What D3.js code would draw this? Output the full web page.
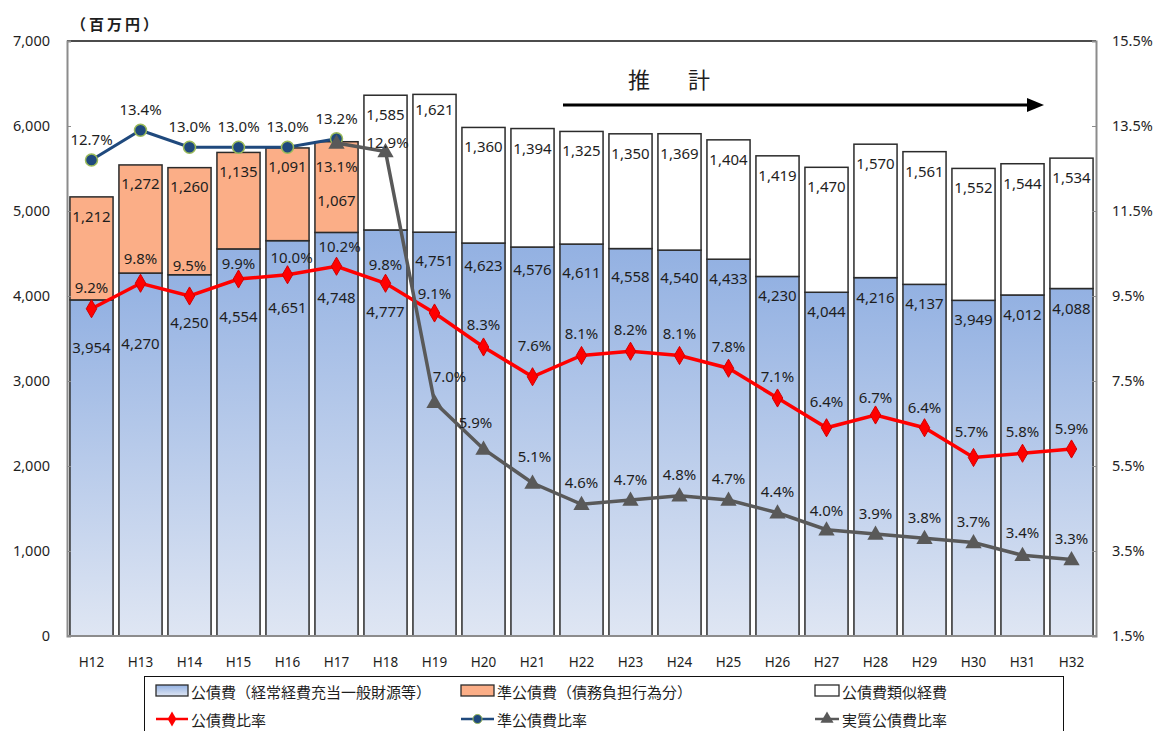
<!DOCTYPE html>
<html lang="ja">
<head>
<meta charset="utf-8">
<script src="https://cdn.jsdelivr.net/npm/d3@7"></script>
<style>
  html, body { margin: 0; padding: 0; background: #fff; }
  svg { display: block; }
  .val { font-family: "Noto Sans", "DejaVu Sans", sans-serif; font-size: 15px; fill: #1e1e1e; }
  .jp { font-family: "Noto Sans CJK JP", "Noto Sans", sans-serif; fill: #1e1e1e; }
</style>
</head>
<body>
<svg id="chart" width="1157" height="731"></svg>
<script>
// Fiscal years (Heisei)
const years = ["H12","H13","H14","H15","H16","H17","H18","H19","H20","H21","H22",
               "H23","H24","H25","H26","H27","H28","H29","H30","H31","H32"];

// 公債費（経常経費充当一般財源等）, millions of yen
const debtService = [3954,4270,4250,4554,4651,4748,4777,4751,4623,4576,4611,
                     4558,4540,4433,4230,4044,4216,4137,3949,4012,4088];
// 準公債費（債務負担行為分）
const quasiDebt = [1212,1272,1260,1135,1091,1067,null,null,null,null,null,
                   null,null,null,null,null,null,null,null,null,null];
// 公債費類似経費
const similarCost = [null,null,null,null,null,null,1585,1621,1360,1394,1325,
                     1350,1369,1404,1419,1470,1570,1561,1552,1544,1534];

// Ratios, %
const debtRatio = [9.2,9.8,9.5,9.9,10.0,10.2,9.8,9.1,8.3,7.6,8.1,
                   8.2,8.1,7.8,7.1,6.4,6.7,6.4,5.7,5.8,5.9];
const quasiRatio = [12.7,13.4,13.0,13.0,13.0,13.2,null,null,null,null,null,
                    null,null,null,null,null,null,null,null,null,null];
const realRatio = [null,null,null,null,null,13.1,12.9,7.0,5.9,5.1,4.6,
                   4.7,4.8,4.7,4.4,4.0,3.9,3.8,3.7,3.4,3.3];

// Axis ticks
const leftTicks = [0,1000,2000,3000,4000,5000,6000,7000];
const rightTicks = [1.5,3.5,5.5,7.5,9.5,11.5,13.5,15.5];

// Label nudges (pixels), kept apart from the values
const debtLabelDy  = [47,70,47,67,66,65,81,28,22,22,28,27,27,19,19,19,19,19,19,19,19];
const quasiLabelDy = [19,18,18,19,18,58];
const simLabelDy   = [19,19,19,19,19,19,19,15,19,19,19,19,19,19,19,19,19,19,19,19,19];
const debtRatioDy  = [-22,-25,-31,-16,-18,-20,-19,-20,-23,-32,-23,-22,-23,-22,-22,-27,-18,-21,-27,-22,-21];
const debtRatioDx  = [0,0,0,0,4,3,0,0,0,2,0,0,0,0,0,0,0,0,-2,0,0];
const realRatioDx  = [0,0,0,0,0,0,2,15,-8,2,0,0,0,0,0,0,0,0,0,0,0];
const realRatioDy  = [0,0,0,0,0,23,-10,-26,-27,-27,-22,-21,-22,-22,-22,-20,-21,-21,-22,-23,-22];

const svg = d3.select("#chart");
const plot = { left: 67, right: 1096, top: 41, bottom: 636 };

const x = d3.scaleBand().domain(years).range([plot.left, plot.right])
  .paddingInner(0.12).paddingOuter(0.06);
const y = d3.scaleLinear().domain([0, 7000]).range([plot.bottom, plot.top]);
const yR = d3.scaleLinear().domain([1.5, 15.5]).range([plot.bottom, plot.top]);
const cx = d => x(d) + x.bandwidth() / 2;
const fmt = d3.format(",");

// gradient for the main bars
const defs = svg.append("defs");
const grad = defs.append("linearGradient").attr("id", "blueGrad")
  .attr("x1", 0).attr("y1", 0).attr("x2", 0).attr("y2", 1);
grad.append("stop").attr("offset", "0%").attr("stop-color", "#93B1E2");
grad.append("stop").attr("offset", "100%").attr("stop-color", "#DFE6F3");

const orange = "#FBAE87";
const barStroke = "#2b2b2b";

// ---- bars ----
const bars = svg.append("g");
years.forEach((yr, i) => {
  const base = debtService[i];
  bars.append("rect")
    .attr("x", x(yr)).attr("width", x.bandwidth())
    .attr("y", y(base)).attr("height", y(0) - y(base))
    .attr("fill", "url(#blueGrad)").attr("stroke", barStroke).attr("stroke-width", 1.5);
  if (quasiDebt[i] != null) {
    const top = base + quasiDebt[i];
    bars.append("rect")
      .attr("x", x(yr)).attr("width", x.bandwidth())
      .attr("y", y(top)).attr("height", y(base) - y(top))
      .attr("fill", orange).attr("stroke", barStroke).attr("stroke-width", 1.5);
  }
  if (similarCost[i] != null) {
    const top = base + similarCost[i];
    bars.append("rect")
      .attr("x", x(yr)).attr("width", x.bandwidth())
      .attr("y", y(top)).attr("height", y(base) - y(top))
      .attr("fill", "#fff").attr("stroke", barStroke).attr("stroke-width", 1.5);
  }
});

// ---- axes frame ----
const axisGray = "#8c8c8c";
svg.append("line").attr("x1", plot.left).attr("x2", plot.right)
  .attr("y1", plot.top).attr("y2", plot.top).attr("stroke", "#111").attr("stroke-width", 1.5);
svg.append("line").attr("x1", plot.left).attr("x2", plot.right)
  .attr("y1", plot.bottom).attr("y2", plot.bottom).attr("stroke", axisGray).attr("stroke-width", 2);

const tickFont = g => g.selectAll(".tick text")
  .attr("font-family", "Noto Sans, sans-serif").attr("font-size", 14.5).attr("fill", "#1e1e1e");

const leftAxis = d3.axisLeft(y).tickValues(leftTicks).tickFormat(d3.format(",")).tickSize(-4).tickPadding(17);
const gl = svg.append("g").attr("transform", `translate(${plot.left},0)`).call(leftAxis);
gl.select(".domain").attr("stroke", axisGray).attr("stroke-width", 2);
gl.selectAll(".tick line").attr("stroke", axisGray);
tickFont(gl);

const rightAxis = d3.axisRight(yR).tickValues(rightTicks).tickFormat(d => d.toFixed(1) + "%").tickSize(-4).tickPadding(16);
const gr = svg.append("g").attr("transform", `translate(${plot.right},0)`).call(rightAxis);
gr.select(".domain").attr("stroke", axisGray).attr("stroke-width", 2);
gr.selectAll(".tick line").attr("stroke", axisGray);
tickFont(gr);

const bottomAxis = d3.axisBottom(x).tickSize(0).tickPadding(21);
const gb = svg.append("g").attr("transform", `translate(0,${plot.bottom})`).call(bottomAxis);
gb.select(".domain").remove();
gb.selectAll(".tick text").attr("font-family", "Noto Sans, sans-serif").attr("font-size", 13.5).attr("fill", "#1e1e1e");

// unit label
svg.append("text").attr("class", "jp").attr("x", 71).attr("y", 23)
  .attr("font-size", 15).attr("font-weight", "bold").attr("letter-spacing", 3)
  .attr("dominant-baseline", "central").text("（百万円）");

// ---- bar value labels ----
const labels = svg.append("g");
years.forEach((yr, i) => {
  const base = debtService[i];
  labels.append("text").attr("class", "val").attr("text-anchor", "middle")
    .attr("dominant-baseline", "central")
    .attr("x", cx(yr)).attr("y", y(base) + debtLabelDy[i]).text(fmt(base));
  if (quasiDebt[i] != null) {
    labels.append("text").attr("class", "val").attr("text-anchor", "middle")
      .attr("dominant-baseline", "central")
      .attr("x", cx(yr)).attr("y", y(base + quasiDebt[i]) + quasiLabelDy[i]).text(fmt(quasiDebt[i]));
  }
  if (similarCost[i] != null) {
    labels.append("text").attr("class", "val").attr("text-anchor", "middle")
      .attr("dominant-baseline", "central")
      .attr("x", cx(yr)).attr("y", y(base + similarCost[i]) + simLabelDy[i]).text(fmt(similarCost[i]));
  }
});

// ---- lines ----
const lineGen = d3.line().defined(d => d.v != null).x(d => cx(d.k)).y(d => yR(d.v));
const pts = arr => years.map((k, i) => ({ k, v: arr[i], i }));

// 準公債費比率
const navy = "#1F497D";
svg.append("path").datum(pts(quasiRatio)).attr("d", lineGen)
  .attr("fill", "none").attr("stroke", navy).attr("stroke-width", 3);
svg.append("g").selectAll("circle").data(pts(quasiRatio).filter(d => d.v != null)).join("circle")
  .attr("cx", d => cx(d.k)).attr("cy", d => yR(d.v)).attr("r", 6)
  .attr("fill", navy).attr("stroke", "#9BBB59").attr("stroke-width", 1.5);

// 公債費比率
const red = "#FF0000";
svg.append("path").datum(pts(debtRatio)).attr("d", lineGen)
  .attr("fill", "none").attr("stroke", red).attr("stroke-width", 3.5);
svg.append("g").selectAll("path").data(pts(debtRatio)).join("path")
  .attr("transform", d => `translate(${cx(d.k)},${yR(d.v)})`)
  .attr("d", d3.symbol(d3.symbolDiamond, 95))
  .attr("fill", red).attr("stroke", "#d00000").attr("stroke-width", 1);

// 実質公債費比率
const gray = "#595959";
svg.append("path").datum(pts(realRatio)).attr("d", lineGen)
  .attr("fill", "none").attr("stroke", gray).attr("stroke-width", 3.5);
svg.append("g").selectAll("path").data(pts(realRatio).filter(d => d.v != null)).join("path")
  .attr("transform", d => `translate(${cx(d.k)},${yR(d.v) + 1})`)
  .attr("d", d3.symbol(d3.symbolTriangle, 115))
  .attr("fill", gray);

// ---- ratio labels ----
const pct = v => v.toFixed(1) + "%";
const rl = svg.append("g");
pts(quasiRatio).filter(d => d.v != null).forEach(d => {
  rl.append("text").attr("class", "val").attr("text-anchor", "middle").attr("dominant-baseline", "central")
    .attr("x", cx(d.k)).attr("y", yR(d.v) - 21).text(pct(d.v));
});
pts(debtRatio).forEach(d => {
  rl.append("text").attr("class", "val").attr("text-anchor", "middle").attr("dominant-baseline", "central")
    .attr("x", cx(d.k) + debtRatioDx[d.i]).attr("y", yR(d.v) + debtRatioDy[d.i]).text(pct(d.v));
});
pts(realRatio).filter(d => d.v != null).forEach(d => {
  rl.append("text").attr("class", "val").attr("text-anchor", "middle").attr("dominant-baseline", "central")
    .attr("x", cx(d.k) + realRatioDx[d.i]).attr("y", yR(d.v) + realRatioDy[d.i]).text(pct(d.v));
});

// ---- projection marker ----
svg.append("text").attr("class", "jp").attr("x", 628).attr("y", 78)
  .attr("font-size", 22).attr("letter-spacing", 8).attr("dominant-baseline", "central")
  .text("推　計");
svg.append("line").attr("x1", 563).attr("x2", 1030).attr("y1", 105).attr("y2", 105)
  .attr("stroke", "#000").attr("stroke-width", 3);
svg.append("path").attr("d", "M1027,98 L1044,105 L1027,112 Z").attr("fill", "#000");

// ---- legend ----
const lg = svg.append("g");
lg.append("rect").attr("x", 144.5).attr("y", 676.5).attr("width", 919).attr("height", 70)
  .attr("fill", "#fff").attr("stroke", "#111").attr("stroke-width", 1);

const legendItems = [
  { col: 0, row: 0, type: "box", fill: "url(#blueGrad)", label: "公債費（経常経費充当一般財源等）" },
  { col: 1, row: 0, type: "box", fill: orange, label: "準公債費（債務負担行為分）" },
  { col: 2, row: 0, type: "box", fill: "#fff", label: "公債費類似経費" },
  { col: 0, row: 1, type: "line", color: red, marker: d3.symbolDiamond, size: 65, label: "公債費比率" },
  { col: 1, row: 1, type: "line", color: navy, marker: d3.symbolCircle, size: 65, label: "準公債費比率" },
  { col: 2, row: 1, type: "line", color: gray, marker: d3.symbolTriangle, size: 75, label: "実質公債費比率" }
];
const colX = [156, 461, 815];
const colW = [32, 33, 24];
const rowY = [691, 719];
legendItems.forEach(it => {
  const lx = colX[it.col], ly = rowY[it.row], w = colW[it.col];
  if (it.type === "box") {
    lg.append("rect").attr("x", lx).attr("y", ly - 6).attr("width", w).attr("height", 11)
      .attr("fill", it.fill).attr("stroke", barStroke).attr("stroke-width", 1.3);
  } else {
    lg.append("line").attr("x1", lx).attr("x2", lx + w).attr("y1", ly).attr("y2", ly)
      .attr("stroke", it.color).attr("stroke-width", 2.5);
    const m = lg.append("path").attr("transform", `translate(${lx + w / 2},${ly})`)
      .attr("d", d3.symbol(it.marker, it.size)).attr("fill", it.color);
    if (it.marker === d3.symbolCircle) m.attr("stroke", "#9BBB59").attr("stroke-width", 1);
  }
  lg.append("text").attr("class", "jp").attr("x", lx + w + 3).attr("y", ly)
    .attr("font-size", 15).attr("dominant-baseline", "central").text(it.label);
});
</script>
</body>
</html>
